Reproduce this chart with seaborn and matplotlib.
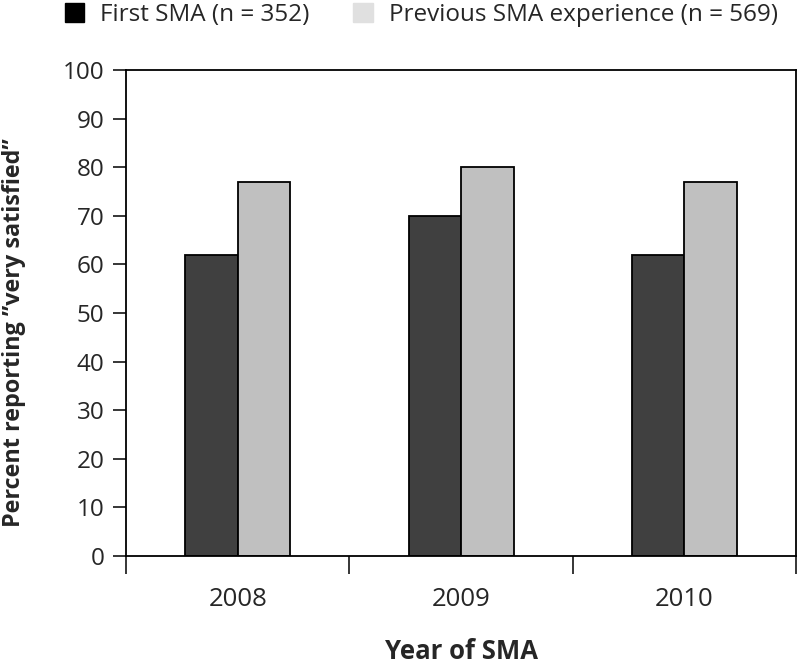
import pandas as pd
import matplotlib.pyplot as plt
import matplotlib.patches as mpatches
import seaborn as sns

years = ["2008", "2009", "2010"]
first_sma = [62, 70, 62]
previous_sma = [77, 80, 77]
series_names = ["First SMA (n = 352)", "Previous SMA experience (n = 569)"]

df = pd.DataFrame({
    "year": years * 2,
    "pct": first_sma + previous_sma,
    "group": [series_names[0]] * 3 + [series_names[1]] * 3,
})

sns.set_style("white")
plt.rcParams["font.family"] = ["Open Sans", "DejaVu Sans"]

fig = plt.figure(figsize=(7.98, 6.67), dpi=100)
ax = fig.add_axes([0.158, 0.1664, 0.8395, 0.7286])

bar_colors = ["#404040", "#c0c0c0"]
sns.barplot(data=df, x="year", y="pct", hue="group", palette=bar_colors,
            width=0.47, gap=0, edgecolor="black", linewidth=1.3, ax=ax,
            legend=False)

ax.set_xlim(-0.5, 2.5)
ax.set_ylim(0, 100)
ax.set_yticks(range(0, 101, 10))
ax.tick_params(axis="y", length=9.5, width=1.3, labelsize=17.5, pad=6, left=True)
ax.set_xticks([0, 1, 2])
ax.set_xticks([-0.5, 0.5, 1.5, 2.5], minor=True)
ax.tick_params(axis="x", which="major", length=0, labelsize=18.5, pad=22)
ax.tick_params(axis="x", which="minor", length=13, width=1.3, bottom=True)

for s in ax.spines.values():
    s.set_visible(True)
    s.set_color("black")
    s.set_linewidth(1.3)

ax.set_xlabel("Year of SMA", fontsize=18.5, fontweight="bold", labelpad=19)
ax.set_ylabel("Percent reporting \u201dvery satisfied\u201d", fontsize=16.8,
              fontweight="bold")
ax.yaxis.set_label_coords(-0.149, 0.46)

handles = [mpatches.Patch(color="black"), mpatches.Patch(color="#e0e0e0")]
fig.legend(handles, series_names, loc="upper left",
           bbox_to_anchor=(65 / 798, 1 - 3 / 667), borderpad=0,
           borderaxespad=0, ncol=2, frameon=False, fontsize=17.5,
           handlelength=0.8, handleheight=0.8, handletextpad=0.65,
           columnspacing=1.8)

fig.savefig("out.png", dpi=100)
